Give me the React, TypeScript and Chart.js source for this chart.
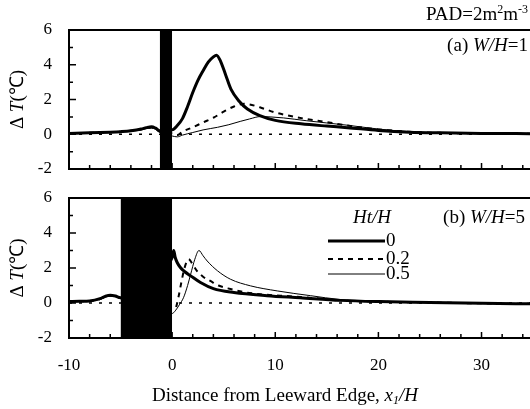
import React, { useEffect, useRef } from "react";
import { Chart, registerables } from "chart.js";
Chart.register(...registerables);

// ---------- data ----------
const seriesLabels = ["0", "0.2", "0.5"]; // Ht/H
const xTickLabels = [-10, 0, 10, 20, 30];
const yTickLabels = [-2, 0, 2, 4, 6];

// Panel (a) W/H = 1
const buildingA = [-1.2, 0];
const a0X = [-10, -8, -6, -5, -4, -3, -2.5, -2, -1.6, -1.2, 0, 0.5, 1, 1.5, 2, 2.5, 3, 3.5, 4, 4.3, 4.7, 5.2, 5.7, 6.5, 7.3, 8.5, 10, 12.5, 15, 17, 20, 23, 26, 30, 35];
const a0Y = [0.05, 0.08, 0.12, 0.15, 0.2, 0.3, 0.38, 0.43, 0.35, 0.2, 0.25, 0.5, 0.9, 1.6, 2.4, 3.1, 3.65, 4.15, 4.45, 4.55, 4.2, 3.4, 2.6, 1.9, 1.45, 1.07, 0.8, 0.6, 0.47, 0.38, 0.22, 0.12, 0.08, 0.05, 0.03];
const a2X = [-10, -8, -6, -5, -4, -3, -2.5, -2, -1.6, -1.2, 0, 0.5, 1, 2, 3, 4, 5, 6, 7, 7.5, 8.5, 10, 11.5, 13, 15, 17, 20, 23, 26, 30, 35];
const a2Y = [0.05, 0.08, 0.12, 0.15, 0.2, 0.28, 0.35, 0.4, 0.32, 0.15, 0.05, -0.05, 0.15, 0.4, 0.68, 0.95, 1.3, 1.6, 1.75, 1.72, 1.55, 1.25, 1.05, 0.88, 0.7, 0.5, 0.28, 0.14, 0.08, 0.05, 0.03];
const a5X = [-10, -8, -6, -5, -4, -3, -2.5, -2, -1.6, -1.2, 0, 0.5, 1, 2, 3, 4.4, 5.5, 6.6, 7.5, 8.6, 9.5, 10.8, 13, 15, 17, 20, 23, 26, 30, 35];
const a5Y = [0.05, 0.07, 0.1, 0.13, 0.18, 0.25, 0.32, 0.36, 0.28, 0.1, -0.1, -0.15, -0.05, 0.1, 0.25, 0.4, 0.55, 0.74, 0.88, 1.02, 1.0, 0.94, 0.78, 0.65, 0.52, 0.3, 0.15, 0.08, 0.05, 0.03];

// Panel (b) W/H = 5
const buildingB = [-5, 0];
const b0X = [-10, -9, -8, -7, -6.5, -6, -5.5, -5, 0, 0.15, 0.3, 0.5, 0.8, 1.2, 1.8, 2.75, 4, 6, 9.2, 12.4, 16.3, 20, 25, 30, 35];
const b0Y = [0.08, 0.1, 0.12, 0.25, 0.38, 0.45, 0.4, 0.3, 2.6, 3.0, 2.6, 2.3, 2.03, 1.8, 1.55, 1.17, 0.82, 0.6, 0.42, 0.3, 0.15, 0.08, 0.03, -0.02, -0.05];
const b2X = [-10, -9, -8, -7, -6.5, -6, -5.5, -5, 0.3, 0.6, 0.9, 1.2, 1.6, 2.0, 2.4, 3, 3.7, 4.5, 5.65, 7, 8.55, 10.5, 12.4, 14.5, 16.3, 20, 25, 30, 35];
const b2Y = [0.08, 0.1, 0.12, 0.22, 0.35, 0.42, 0.38, 0.28, -0.3, 0.3, 1.2, 2.0, 2.5, 2.2, 1.84, 1.5, 1.26, 1.0, 0.8, 0.62, 0.5, 0.42, 0.34, 0.25, 0.15, 0.08, 0.03, -0.02, -0.05];
const b5X = [-10, -9, -8, -7, -6.5, -6, -5.5, -5, 0, 0.3, 0.7, 1.1, 1.5, 1.8, 2.2, 2.6, 3.0, 3.4, 4.4, 5.65, 7.6, 10.2, 13.4, 16.3, 20, 25, 30, 35];
const b5Y = [0.08, 0.1, 0.12, 0.2, 0.32, 0.4, 0.36, 0.25, -0.6, -0.45, -0.1, 0.3, 1.0, 1.65, 2.5, 3.0, 2.7, 2.4, 1.84, 1.36, 0.98, 0.69, 0.42, 0.2, 0.1, 0.03, -0.02, -0.05];

const zeroX = [-10, 35];
const zeroY = [0, 0];

// ---------- helpers ----------
const SERIF = '"Liberation Serif", "Times New Roman", serif';
type Run = { t: string; italic?: boolean; size?: number; dy?: number };

function drawRuns(ctx: CanvasRenderingContext2D, runs: Run[], x: number, y: number, align: "left" | "right" | "center", base = 16) {
  ctx.save();
  ctx.fillStyle = "#000";
  ctx.textBaseline = "middle";
  ctx.textAlign = "left";
  const fontOf = (r: Run) => `${r.italic ? "italic " : ""}${r.size ?? base}px ${SERIF}`;
  let w = 0;
  for (const r of runs) { ctx.font = fontOf(r); w += ctx.measureText(r.t).width; }
  let cx = align === "left" ? x : align === "right" ? x - w : x - w / 2;
  for (const r of runs) {
    ctx.font = fontOf(r);
    ctx.fillText(r.t, cx, y + (r.dy ?? 0));
    cx += ctx.measureText(r.t).width;
  }
  ctx.restore();
}

const pts = (xs: number[], ys: number[]) => xs.map((x, i) => ({ x, y: ys[i] }));

const styles = [
  { borderWidth: 3, borderDash: [] as number[] },
  { borderWidth: 2, borderDash: [5, 5] },
  { borderWidth: 1, borderDash: [] as number[] },
];

function makeDatasets(building: number[], series: [number[], number[]][]) {
  const ds: any[] = [
    {
      label: "building",
      data: building.map((x) => ({ x, y: 6 })),
      borderWidth: 0,
      borderColor: "rgba(0,0,0,0)",
      backgroundColor: "#000",
      fill: "start",
      pointRadius: 0,
      order: 0,
    },
    {
      label: "zero",
      data: pts(zeroX, zeroY),
      borderWidth: 1.5,
      borderDash: [3, 7],
      borderColor: "#000",
      pointRadius: 0,
      fill: false,
      order: 3,
    },
  ];
  series.forEach(([xs, ys], i) => {
    ds.push({
      label: seriesLabels[i],
      data: pts(xs, ys),
      borderColor: "#000",
      borderWidth: styles[i].borderWidth,
      borderDash: styles[i].borderDash,
      pointRadius: 0,
      fill: false,
      cubicInterpolationMode: "monotone",
      order: 1,
    });
  });
  return ds;
}

const X_MIN = -10;
const X_MAX = 34.7;
const TEXT = 19;
const TICK = 17;

function frameAndTicksPlugin(id: string) {
  return {
    id,
    afterDatasetsDraw(chart: any) {
      const { ctx, chartArea: a, scales } = chart;
      const xs = scales.x, ys = scales.y;
      ctx.save();
      ctx.strokeStyle = "#000";
      ctx.lineWidth = 2;
      ctx.beginPath();
      ctx.moveTo(a.right + 2, a.top);
      ctx.lineTo(a.left, a.top);
      ctx.lineTo(a.left, a.bottom);
      ctx.lineTo(a.right + 2, a.bottom);
      ctx.stroke();
      ctx.lineWidth = 1.5;
      ctx.beginPath();
      for (let v = -1; v <= 5; v++) {
        const py = ys.getPixelForValue(v);
        const len = v % 2 === 0 ? 7 : 4;
        ctx.moveTo(a.left, py);
        ctx.lineTo(a.left + len, py);
      }
      for (let v = -8; v <= 34; v += 2) {
        const px = xs.getPixelForValue(v);
        const len = v % 10 === 0 ? 6 : 4;
        ctx.moveTo(px, a.bottom);
        ctx.lineTo(px, a.bottom - len);
      }
      ctx.stroke();
      ctx.restore();
      // y title, centred on the y = 2 level
      ctx.save();
      ctx.translate(18, ys.getPixelForValue(2));
      ctx.rotate(-Math.PI / 2);
      drawRuns(ctx, [{ t: "Δ " }, { t: "T", italic: true }, { t: "(℃)" }], 0, 0, "center", TEXT);
      ctx.restore();
    },
  };
}

function makeConfig(datasets: any[], opts: { topPad: number; axisH: number; showX: boolean; plugins: any[] }) {
  return {
    type: "line" as const,
    data: { datasets },
    options: {
      responsive: false,
      animation: false as const,
      layout: { padding: { top: opts.topPad, left: 0, right: 0, bottom: 0 } },
      plugins: { legend: { display: false }, tooltip: { enabled: false } },
      scales: {
        x: {
          type: "linear" as const,
          min: X_MIN,
          max: X_MAX,
          grid: { display: false, drawTicks: false },
          border: { display: false },
          ticks: {
            display: opts.showX,
            color: "#000",
            font: { family: SERIF, size: TICK },
            padding: 17,
            maxRotation: 0,
            autoSkip: false,
          },
          afterBuildTicks: (s: any) => {
            s.ticks = xTickLabels.map((v) => ({ value: v }));
          },
          afterFit: (s: any) => {
            s.height = opts.axisH;
            s.paddingLeft = 0;
            s.paddingRight = 0;
          },
        },
        y: {
          min: -2,
          max: 6,
          grid: { display: false, drawTicks: false },
          border: { display: false },
          ticks: { color: "#000", font: { family: SERIF, size: TICK }, padding: 17 },
          afterBuildTicks: (s: any) => {
            s.ticks = yTickLabels.map((v) => ({ value: v }));
          },
          afterFit: (s: any) => {
            s.width = 69;
            s.paddingTop = 0;
            s.paddingBottom = 0;
          },
        },
      },
    },
    plugins: opts.plugins,
  };
}

export default function App() {
  const topRef = useRef<HTMLCanvasElement>(null);
  const botRef = useRef<HTMLCanvasElement>(null);

  useEffect(() => {
    const topText = {
      id: "topText",
      afterDraw(chart: any) {
        const ctx = chart.ctx;
        drawRuns(ctx, [{ t: "PAD=2m" }, { t: "2", size: 12, dy: -5 }, { t: "m" }, { t: "-3", size: 12, dy: -5 }], 528, 15, "right", TEXT);
        drawRuns(ctx, [{ t: "(a) " }, { t: "W/H", italic: true }, { t: "=1" }], 528, 46, "right", TEXT);
      },
    };
    const botText = {
      id: "botText",
      afterDraw(chart: any) {
        const ctx = chart.ctx;
        drawRuns(ctx, [{ t: "(b) " }, { t: "W/H", italic: true }, { t: "=5" }], 525, 38, "right", TEXT);
        // legend
        drawRuns(ctx, [{ t: "Ht/H", italic: true }], 372, 38, "center", TEXT);
        const rows = [61, 79, 94];
        const ds = chart.data.datasets.filter((d: any) => seriesLabels.includes(d.label));
        ds.forEach((d: any, i: number) => {
          ctx.save();
          ctx.strokeStyle = "#000";
          ctx.lineWidth = d.borderWidth;
          ctx.setLineDash(d.borderDash || []);
          ctx.beginPath();
          ctx.moveTo(328, rows[i]);
          ctx.lineTo(385, rows[i]);
          ctx.stroke();
          ctx.restore();
          drawRuns(ctx, [{ t: d.label }], 386, rows[i], "left", TEXT);
        });
        // x title
        drawRuns(
          ctx,
          [{ t: "Distance from Leeward Edge, " }, { t: "x", italic: true }, { t: "1", italic: true, size: 12, dy: 5 }, { t: "/H", italic: true }],
          285,
          216,
          "center",
          TEXT
        );
      },
    };

    const top = new Chart(
      topRef.current!,
      makeConfig(makeDatasets(buildingA, [[a0X, a0Y], [a2X, a2Y], [a5X, a5Y]]), {
        topPad: 30,
        axisH: 11,
        showX: false,
        plugins: [frameAndTicksPlugin("frameA"), topText],
      }) as any
    );
    const bot = new Chart(
      botRef.current!,
      makeConfig(makeDatasets(buildingB, [[b0X, b0Y], [b2X, b2Y], [b5X, b5Y]]), {
        topPad: 18,
        axisH: 71,
        showX: true,
        plugins: [frameAndTicksPlugin("frameB"), botText],
      }) as any
    );
    return () => {
      top.destroy();
      bot.destroy();
    };
  }, []);

  return (
    <div style={{ position: "fixed", left: 0, top: 0, width: 530, height: 409, background: "#fff", overflow: "hidden" }}>
      <canvas ref={topRef} width={530} height={180} style={{ position: "absolute", left: 0, top: 0, display: "block" }} />
      <canvas ref={botRef} width={530} height={229} style={{ position: "absolute", left: 0, top: 180, display: "block" }} />
    </div>
  );
}
